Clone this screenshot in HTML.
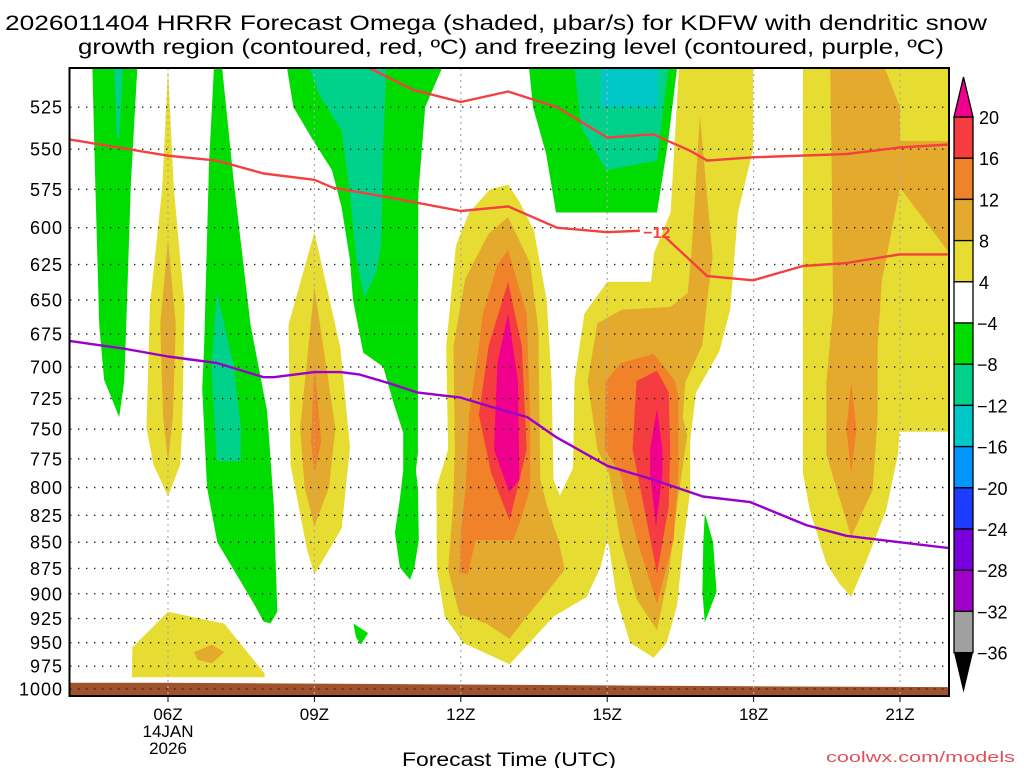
<!DOCTYPE html>
<html><head><meta charset="utf-8"><style>
html,body{margin:0;padding:0;background:#fff;}
svg{display:block;font-family:"Liberation Sans","DejaVu Sans",sans-serif;}
</style></head><body>
<svg id="chart" width="1024" height="768" viewBox="0 0 1024 768" xmlns="http://www.w3.org/2000/svg">
<defs><clipPath id="plotclip"><rect x="69.5" y="68" width="879.5" height="628"/></clipPath></defs>
<text x="5" y="30" font-size="21" textLength="982" lengthAdjust="spacingAndGlyphs" fill="#000">2026011404 HRRR Forecast Omega (shaded, μbar/s) for KDFW with dendritic snow</text>
<text x="78" y="54" font-size="21" textLength="866" lengthAdjust="spacingAndGlyphs" fill="#000">growth region (contoured, red, ºC) and freezing level (contoured, purple, ºC)</text>
<g id="plot" clip-path="url(#plotclip)"></g>
<g id="axes"></g>
<g id="cbar"></g>
<text x="402" y="766" font-size="19" textLength="214" lengthAdjust="spacingAndGlyphs" fill="#000">Forecast Time (UTC)</text>
<text x="826" y="762" font-size="15" textLength="189" lengthAdjust="spacingAndGlyphs" fill="#e0505a">coolwx.com/models</text>
</svg>
<script>
// ---- data ----
const levels = [525,550,575,600,625,650,675,700,725,750,775,800,825,850,875,900,925,950,975,1000];
const hourTicks = [6,9,12,15,18,21];
const hourTickLabels = ["06Z","09Z","12Z","15Z","18Z","21Z"];
const cbarLevels = [20,16,12,8,4,-4,-8,-12,-16,-20,-24,-28,-32,-36];
const cbarColors = ["#f43c41","#f0822a","#e4aa2e","#e6dc32","#ffffff","#00dc00","#00d28c","#00c8c8","#0096ff","#1e3cff","#7800dc","#a000c8","#a0a0a0"];
const surfaceHours = [3.9,6,9,12,15,18,22.1];
const surfacePres = [993,993,994,995,996,997,998];
const redUpper = [[10.14,503],[11.02,515],[12.0,522],[12.97,516],[13.97,525],[15.0,543],[15.94,541],[16.7,551],[17.05,557],[17.99,555],[19.9,553],[20.99,549],[22.1,547]];
const redLower = [[3.95,544],[6.0,554],[7.0,557],[7.96,565],[9.0,569],[9.38,574],[10.49,580],[12.0,589],[12.97,586],[13.97,600],[15.0,603],[15.67,602]];
const redLower2 = [[16.15,605],[17.05,633],[17.99,636],[19.01,626],[19.9,624],[20.99,618],[22.1,618]];
const purpleLine = [[3.95,680],[5.1,686],[6.0,692],[7.0,697],[7.96,708],[8.17,708],[9.0,704],[9.53,704],[9.93,706],[10.55,713],[11.1,720],[11.98,724],[12.74,733],[13.36,740],[13.97,757],[15.0,781],[15.94,793],[16.96,808],[17.93,813],[19.08,834],[19.9,844],[20.99,850],[22.1,856]];
const shadeGreen = [
 [[4.45,503],[5.37,503],[5.24,571],[5.13,685],[5.1,712],[5.0,740],[4.69,710],[4.59,668],[4.5,560]],
 [[6.94,503],[7.11,503],[7.35,571],[7.69,668],[8.03,735],[8.17,817],[8.24,918],[8.1,930],[7.96,928],[7.76,910],[7.01,850],[6.8,800],[6.7,717],[6.74,685],[6.84,559]],
 [[8.44,503],[11.61,503],[11.27,525],[11.13,578],[11.12,660],[11.12,770],[11.08,785],[11.12,800],[11.14,848],[11.05,874],[10.96,886],[10.75,874],[10.65,841],[10.75,811],[10.82,785],[10.82,753],[10.61,727],[10.41,700],[10.0,689],[9.79,650],[9.73,622],[9.56,587],[9.36,563],[8.98,545],[8.57,525]],
 [[9.8,930],[10.1,940],[9.95,952],[9.85,944]],
 [[13.4,503],[16.43,503],[16.25,545],[16.02,590],[13.95,590],[13.75,553],[13.48,525]],
 [[17.0,823],[17.17,850],[17.24,898],[17.0,929],[16.95,898],[16.97,850]]
];
const shadeTeal = [
 [[4.9,503],[5.07,503],[5.0,543],[4.95,543]],
 [[7.0,645],[7.35,700],[7.49,749],[7.49,777],[7.0,777],[6.89,700]],
 [[8.9,503],[10.47,503],[10.4,557],[10.37,611],[10.27,630],[10.03,648],[9.86,622],[9.73,578],[9.56,539],[9.1,518]],
 [[14.33,503],[16.25,503],[16.02,557],[14.98,563],[14.47,537]]
];
const shadeCyan = [[[14.88,503],[16.04,503],[16.04,525],[14.88,525]]];
const shadeYellow = [
 [[6.0,503],[6.12,575],[6.34,654],[6.29,749],[6.25,780],[6.0,808],[5.7,780],[5.56,749],[5.63,654],[5.88,575]],
 [[6.0,918],[6.94,928],[7.15,930],[7.98,983],[7.98,987],[5.26,987],[5.27,955]],
 [[9.0,603],[9.53,685],[9.73,765],[9.56,837],[9.0,881],[8.85,857],[8.51,780],[8.47,668]],
 [[12.6,575],[12.97,572],[13.2,583],[13.5,602],[13.76,650],[13.86,711],[13.9,793],[14.03,807],[14.3,783],[14.33,711],[14.53,660],[15.0,637],[15.9,637],[15.96,617],[16.3,590],[16.47,503],[17.99,503],[17.99,550],[17.68,590],[17.52,657],[17.3,688],[16.82,720],[16.7,760],[16.7,803],[16.57,848],[16.43,912],[16.22,950],[15.95,966],[15.47,950],[15.2,906],[15.04,855],[15.0,848],[14.86,874],[14.58,903],[13.9,923],[13.41,950],[13.0,973],[12.04,950],[11.67,923],[11.51,876],[11.5,800],[11.74,767],[11.7,684],[11.9,612],[12.17,590]],
 [[19.01,503],[22.1,503],[22.1,752],[20.99,752],[20.96,771],[20.72,820],[20.31,868],[20.0,903],[19.76,890],[19.49,870],[19.15,820],[19.01,787]]
];
const shadeGold = [
 [[6.0,608],[6.16,668],[6.1,740],[6.0,777],[5.9,740],[5.84,668]],
 [[6.53,960],[6.9,952],[7.15,960],[6.9,972],[6.6,968]],
 [[9.0,641],[9.43,749],[9.3,800],[9.0,835],[8.8,800],[8.71,749]],
 [[12.97,593],[13.42,624],[13.59,672],[13.63,793],[13.77,817],[14.0,848],[14.13,876],[13.77,898],[13.35,923],[13.0,946],[12.52,930],[11.97,920],[11.74,876],[11.84,817],[11.88,767],[11.85,684],[12.09,635],[12.57,604]],
 [[14.6,711],[14.8,667],[15.3,657],[16.3,655],[16.65,645],[16.72,620],[16.9,530],[17.16,620],[17.05,650],[16.95,683],[16.6,712],[16.55,740],[16.64,755],[16.43,817],[16.26,880],[16.02,937],[15.61,906],[15.27,848],[15.04,788],[14.8,767]],
 [[19.57,503],[20.69,503],[21.0,525],[21.0,545],[22.1,545],[22.1,621],[21.0,574],[20.63,636],[20.54,683],[20.54,740],[20.44,802],[20.0,845],[19.49,771],[19.49,712],[19.63,657],[19.6,562]]
];
const shadeOrange = [
 [[9.0,697],[9.14,760],[9.0,788],[8.93,760]],
 [[12.97,615],[13.35,660],[13.42,738],[13.42,801],[13.2,833],[13.07,848],[12.3,848],[12.15,880],[11.97,880],[12.0,840],[12.1,800],[12.17,738],[12.37,684],[12.45,660],[12.75,625]],
 [[15.95,690],[16.1,697],[16.39,711],[16.46,724],[16.46,788],[16.36,848],[16.02,910],[15.61,848],[15.27,788],[14.95,767],[14.97,711],[15.28,697]],
 [[20.0,712],[20.11,750],[20.0,787],[19.9,750]]
];
const shadeRed = [
 [[12.97,637],[13.25,684],[13.35,767],[13.0,830],[12.62,787],[12.37,738],[12.57,684]],
 [[16.02,703],[16.26,720],[16.29,767],[16.26,817],[16.02,880],[15.68,801],[15.52,767],[15.6,711]]
];
const shadeMagenta = [
 [[12.97,660],[13.17,711],[13.2,793],[12.99,804],[12.68,767],[12.75,697]],
 [[16.02,733],[16.13,767],[16.13,788],[16.0,836],[15.88,788],[15.88,767]]
];
// ---- scales ----
function xs(h){ return 168 + (h-6)*48.8; }
function ys(p){ return 689 - 903*Math.log(1000/p); }
const NS = "http://www.w3.org/2000/svg";
function mk(tag, parent){ const e=document.createElementNS(NS,tag); parent.appendChild(e); return e; }
const plot = document.getElementById('plot');
const axes = document.getElementById('axes');
const cbar = document.getElementById('cbar');
function ptsStr(arr){ return arr.map(d=>xs(d[0]).toFixed(1)+','+ys(d[1]).toFixed(1)).join(' '); }
function drawShade(list, color, name){
  list.forEach(function(poly){
    const e = mk('polygon', plot);
    
    
    e.setAttribute('points', ptsStr(poly));
    e.setAttribute('fill', color);
  });
}
drawShade(shadeGreen, '#00dc00', 'omega-shade-minus4-to-minus8');
drawShade(shadeTeal, '#00d28c', 'omega-shade-minus8-to-minus12');
drawShade(shadeCyan, '#00c8c8', 'omega-shade-minus12-to-minus16');
drawShade(shadeYellow, '#e6dc32', 'omega-shade-4-to-8');
drawShade(shadeGold, '#e4aa2e', 'omega-shade-8-to-12');
drawShade(shadeOrange, '#f0822a', 'omega-shade-12-to-16');
drawShade(shadeRed, '#f43c41', 'omega-shade-16-to-20');
drawShade(shadeMagenta, '#f0008c', 'omega-shade-above-20');
// ground
(function(){
  let pts = surfaceHours.map((h,i)=>xs(h).toFixed(1)+','+ys(surfacePres[i]).toFixed(1));
  pts.push(xs(22.1)+','+ys(1010)); pts.push(xs(3.9)+','+ys(1010));
  const g = mk('polygon', plot);
  
  
  g.setAttribute('points', pts.join(' '));
  g.setAttribute('fill', '#a0522d');
})();
// gridlines
levels.forEach(function(p){
  const l = mk('line', plot);
  
  
  l.setAttribute('x1', 70); l.setAttribute('x2', 949);
  l.setAttribute('y1', ys(p)); l.setAttribute('y2', ys(p));
  l.setAttribute('stroke', '#222'); l.setAttribute('stroke-width', '1.4');
  l.setAttribute('stroke-dasharray', '1.4,6.6');
});
hourTicks.forEach(function(h){
  const l = mk('line', plot);
  
  
  l.setAttribute('x1', xs(h)); l.setAttribute('x2', xs(h));
  l.setAttribute('y1', 68); l.setAttribute('y2', 696);
  l.setAttribute('stroke', '#aaa'); l.setAttribute('stroke-width', '1.2');
  l.setAttribute('stroke-dasharray', '2,4');
});
// contour lines
function drawLine(arr, color, name){
  const e = mk('polyline', plot);
  
  
  e.setAttribute('points', ptsStr(arr));
  e.setAttribute('fill', 'none'); e.setAttribute('stroke', color);
  e.setAttribute('stroke-width', '2.4'); e.setAttribute('stroke-linejoin', 'round');
}
drawLine(redUpper, '#f44040', 'dgz-contour-upper');
drawLine(redLower, '#f44040', 'dgz-contour-minus12');
drawLine(redLower2, '#f44040', 'dgz-contour-minus12-continued');
drawLine(purpleLine, '#9900cc', 'freezing-level-contour');
(function(){
  const t = mk('text', plot);
  
  
  t.setAttribute('x', xs(15.74)); t.setAttribute('y', ys(603)+6);
  t.setAttribute('font-size', '16'); t.setAttribute('font-weight', 'bold'); t.setAttribute('fill', '#f44040');
  t.textContent = '\u221212';
})();
// frame
(function(){
  const r = mk('rect', axes);
  
  
  r.setAttribute('x', 69.5); r.setAttribute('y', 68); r.setAttribute('width', 879.5); r.setAttribute('height', 628);
  r.setAttribute('fill', 'none'); r.setAttribute('stroke', '#000'); r.setAttribute('stroke-width', '2');
})();
levels.forEach(function(p){
  const t = mk('text', axes);
  
  
  t.setAttribute('x', 63); t.setAttribute('y', ys(p)+6.5);
  t.setAttribute('font-size', '18'); t.setAttribute('text-anchor', 'end');
  t.setAttribute('letter-spacing', '1');
  t.textContent = String(p);
});
hourTicks.forEach(function(h,i){
  const k = mk('line', axes);
  
  
  k.setAttribute('x1', xs(h)); k.setAttribute('x2', xs(h)); k.setAttribute('y1', 696); k.setAttribute('y2', 702);
  k.setAttribute('stroke', '#000');
  const t = mk('text', axes);
  
  
  t.setAttribute('x', xs(h)); t.setAttribute('y', 720);
  t.setAttribute('font-size', '17'); t.setAttribute('text-anchor', 'middle');
  t.textContent = hourTickLabels[i];
});
(function(){
  const a = mk('text', axes);
  
  
  a.setAttribute('x', xs(6)); a.setAttribute('y', 737); a.setAttribute('font-size', '17'); a.setAttribute('text-anchor', 'middle');
  a.textContent = '14JAN';
  const b = mk('text', axes);
  
  
  b.setAttribute('x', xs(6)); b.setAttribute('y', 754); b.setAttribute('font-size', '17'); b.setAttribute('text-anchor', 'middle');
  b.textContent = '2026';
})();
// colorbar
(function(){
  const cx0 = 954, cx1 = 973, y20 = 117, step = 41.2;
  cbarColors.forEach(function(c,i){
    const r = mk('rect', cbar);
    
    
    r.setAttribute('x', cx0); r.setAttribute('y', y20 + i*step);
    r.setAttribute('width', cx1-cx0); r.setAttribute('height', step);
    r.setAttribute('fill', c); r.setAttribute('stroke', '#000'); r.setAttribute('stroke-width', '1.3');
  });
  const top = mk('polygon', cbar);
  
  
  top.setAttribute('points', cx0+','+y20+' '+cx1+','+y20+' '+((cx0+cx1)/2)+',77');
  top.setAttribute('fill', '#f0008c'); top.setAttribute('stroke', '#000'); top.setAttribute('stroke-width', '1.3');
  const yb = y20 + cbarColors.length*step;
  const bot = mk('polygon', cbar);
  
  
  bot.setAttribute('points', cx0+','+yb+' '+cx1+','+yb+' '+((cx0+cx1)/2)+','+(yb+40));
  bot.setAttribute('fill', '#000');
  cbarLevels.forEach(function(v,i){
    const t = mk('text', cbar);
    
    
    t.setAttribute('x', v < 0 ? 977 : 979); t.setAttribute('y', y20 + i*step + 7);
    t.setAttribute('font-size', '18');
    t.textContent = v < 0 ? '\u2212' + Math.abs(v) : String(v);
  });
})();
</script>
</body></html>
